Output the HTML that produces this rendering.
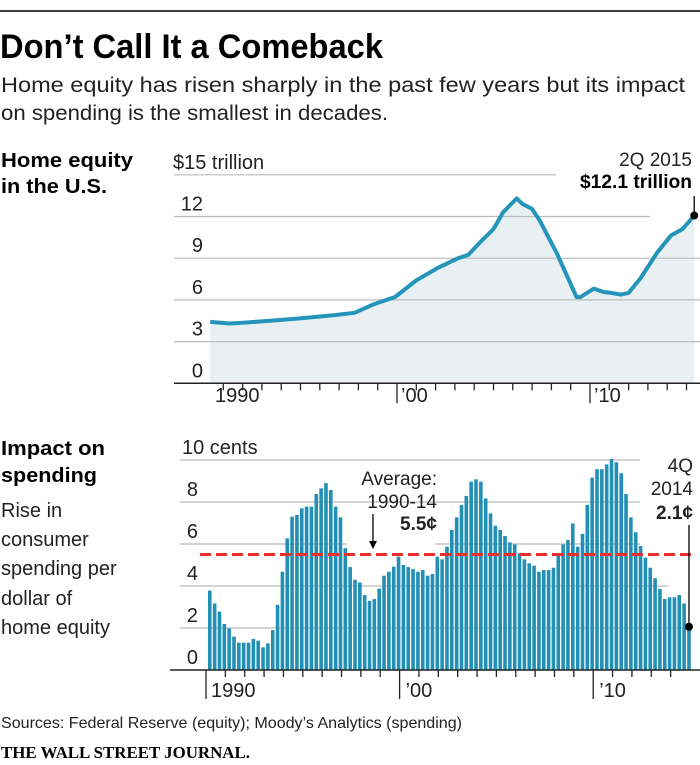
<!DOCTYPE html>
<html><head><meta charset="utf-8"><style>
html,body{margin:0;padding:0;background:#fff;}
svg{display:block;font-family:"Liberation Sans",sans-serif;}
</style></head><body>
<svg id="c" width="700" height="765" viewBox="0 0 700 765">
<line x1="0" y1="11" x2="700" y2="11" stroke="#000" stroke-width="1.5"/>
<text x="0" y="58" font-size="34" font-weight="bold" textLength="383" lengthAdjust="spacingAndGlyphs">Don’t Call It a Comeback</text>
<text x="1" y="92" font-size="21" fill="#222" textLength="684" lengthAdjust="spacingAndGlyphs">Home equity has risen sharply in the past few years but its impact</text>
<text x="1" y="120" font-size="21" fill="#222" textLength="387" lengthAdjust="spacingAndGlyphs">on spending is the smallest in decades.</text>
<g>
<text x="1" y="167" font-size="20" font-weight="bold" textLength="132" lengthAdjust="spacingAndGlyphs">Home equity</text>
<text x="1" y="193" font-size="20" font-weight="bold" textLength="106" lengthAdjust="spacingAndGlyphs">in the U.S.</text>
</g>
<g id="topchart"></g>
<g>
<text x="1" y="455" font-size="20" font-weight="bold" textLength="104" lengthAdjust="spacingAndGlyphs">Impact on</text>
<text x="1" y="482" font-size="20" font-weight="bold" textLength="96" lengthAdjust="spacingAndGlyphs">spending</text>
<text x="1" y="517" font-size="20" fill="#222">Rise in</text>
<text x="1" y="546" font-size="20" fill="#222">consumer</text>
<text x="1" y="575" font-size="20" fill="#222">spending per</text>
<text x="1" y="605" font-size="20" fill="#222">dollar of</text>
<text x="1" y="634" font-size="20" fill="#222">home equity</text>
</g>
<g id="botchart"></g>
<text x="1" y="728" font-size="16" fill="#222" textLength="461" lengthAdjust="spacingAndGlyphs">Sources: Federal Reserve (equity); Moody’s Analytics (spending)</text>
<text x="1" y="758" font-size="17" font-weight="bold" font-family="Liberation Serif,serif" textLength="249" lengthAdjust="spacingAndGlyphs">THE WALL STREET JOURNAL.</text>
</svg>
<script>
// Top chart data
const equityTimes = [1990.32,1991.3,1992.0,1993.1,1994.9,1996.7,1997.8,1998.8,1999.9,2001.0,2002.1,2003.1,2003.7,2004.4,2005.0,2005.5,2006.2,2006.5,2007.0,2007.4,2008.3,2009.3,2009.5,2010.2,2010.7,2011.1,2011.6,2012.0,2012.6,2013.5,2014.2,2014.8,2015.4];
const equityValues = [4.42,4.30,4.35,4.47,4.66,4.9,5.07,5.69,6.21,7.41,8.29,8.96,9.25,10.28,11.1,12.3,13.3,12.9,12.55,11.7,9.3,6.2,6.2,6.81,6.57,6.5,6.38,6.5,7.53,9.44,10.64,11.1,12.07];
const equityTicks = [0,3,6,9,12,15];
// Bottom chart data (quarterly 1990Q1..2014Q4)
const spendingValues = [3.78,3.17,2.78,2.19,1.98,1.59,1.3,1.3,1.3,1.48,1.4,1.08,1.27,1.9,3.1,4.68,6.27,7.3,7.38,7.7,7.78,7.78,8.38,8.65,8.9,8.57,7.78,7.27,5.8,4.9,4.3,4.17,3.57,3.29,3.38,3.87,4.49,4.68,4.92,5.4,5.0,4.9,4.8,4.68,4.76,4.49,4.57,5.4,5.27,5.87,6.67,7.27,7.86,8.29,8.97,9.08,8.97,8.17,7.46,6.87,6.67,6.38,6.08,5.98,5.56,5.27,5.08,4.97,4.68,4.76,4.76,4.87,5.56,5.98,6.19,6.98,5.87,6.48,7.86,9.16,9.56,9.56,9.79,10.05,9.89,9.37,8.38,7.27,6.56,5.9,5.35,4.87,4.37,3.86,3.38,3.46,3.46,3.57,3.17,2.06];
const spendingTicks = [0,2,4,6,8,10];
const spendingAverage = [5.5];

const NS="http://www.w3.org/2000/svg";
function mk(parent,tag,attrs,text){const e=document.createElementNS(NS,tag);for(const k in attrs)e.setAttribute(k,attrs[k]);if(text!=null)e.textContent=text;parent.appendChild(e);return e;}

// ---- top chart
const topG=document.getElementById('topchart');
const xT=t=>397+(t-2000)*19.3;
const yT=v=>383.3-v*13.9;
const gridEnds={0:700,3:700,6:700,9:700,12:650,15:556};
let pts=equityTimes.map((t,i)=>xT(t).toFixed(1)+','+yT(equityValues[i]).toFixed(1));
const area=mk(topG,'polygon',{points:xT(equityTimes[0]).toFixed(1)+','+yT(0)+' '+pts.join(' ')+' '+xT(equityTimes[equityTimes.length-1]).toFixed(1)+','+yT(0),fill:'#e8f0f4'});


equityTicks.forEach(v=>{
  if(v>0){const g=mk(topG,'line',{x1:174,x2:gridEnds[v],y1:yT(v),y2:yT(v),stroke:'#bbb','stroke-width':1.2});
  
  }
  const t=mk(topG,'text',{x:v===15?173:203,y:yT(v)-6,'font-size':20,fill:'#222','text-anchor':v===15?'start':'end'},v===15?'$15 trillion':String(v));
  
  
});
const line=mk(topG,'polyline',{points:pts.join(' '),fill:'none',stroke:'#2494bb','stroke-width':4,'stroke-linejoin':'round'});


const base=mk(topG,'line',{x1:174,x2:700,y1:yT(0),y2:yT(0),stroke:'#222','stroke-width':1.5});


for(let yr=1991;yr<=2015;yr++){
  const long=(yr===2000||yr===2010);
  const tk=mk(topG,'line',{x1:xT(yr),x2:xT(yr),y1:yT(0),y2:yT(0)+(long?20:7),stroke:'#222','stroke-width':1.3});
  
  
}
[['1990',215],["’00",xT(2000)+4],["’10",xT(2010)+4]].forEach(([s,x])=>{
  const t=mk(topG,'text',{x:x,y:402,'font-size':20,fill:'#222'},s);
  
  
});
const lt=equityTimes.length-1;
const ex=xT(equityTimes[lt]), ey=yT(equityValues[lt]);
const a1=mk(topG,'text',{x:692,y:166,'font-size':19,fill:'#222','text-anchor':'end'},'2Q 2015');


const a2=mk(topG,'text',{x:692,y:188,'font-size':19,'font-weight':'bold','text-anchor':'end',textLength:112,lengthAdjust:'spacingAndGlyphs'},'$12.1 trillion');


const pl=mk(topG,'line',{x1:ex,x2:ex,y1:196,y2:ey,stroke:'#000','stroke-width':1.3});


const dot=mk(topG,'circle',{cx:ex,cy:ey,r:4,fill:'#000'});



// ---- bottom chart
const botG=document.getElementById('botchart');
const yB=v=>670-v*21;
const xB=i=>208+i*4.84;
const xYear=yr=>206+(yr-1990)*19.36;
const bEnds={0:700,2:690,4:668,6:640,8:640,10:640};
spendingTicks.forEach(v=>{
  if(v>0){
    if(v===6){
      [[180,347],[435,640]].forEach(([a,b])=>{const g=mk(botG,'line',{x1:a,x2:b,y1:yB(v),y2:yB(v),stroke:'#bbb','stroke-width':1.2});
      
      });
    } else {
      const g=mk(botG,'line',{x1:180,x2:bEnds[v],y1:yB(v),y2:yB(v),stroke:'#bbb','stroke-width':1.2});
      
      
    }
  }
  const t=mk(botG,'text',{x:v===10?182:198,y:yB(v)-6,'font-size':20,fill:'#222','text-anchor':v===10?'start':'end'},v===10?'10 cents':String(v));
  
  
});
spendingValues.forEach((v,i)=>{
  const r=mk(botG,'rect',{x:xB(i).toFixed(2),y:yB(v).toFixed(2),width:3.6,height:(v*21).toFixed(2),fill:'#2290b5'});
  
  
});
const avg=mk(botG,'line',{x1:200,x2:694,y1:yB(spendingAverage[0]),y2:yB(spendingAverage[0]),stroke:'#e8312f','stroke-width':3,'stroke-dasharray':'11 5'});


const bb=mk(botG,'line',{x1:170,x2:700,y1:yB(0),y2:yB(0),stroke:'#222','stroke-width':1.5});


for(let yr=1990;yr<=2014;yr++){
  const long=(yr===1990||yr===2000||yr===2010);
  const tk=mk(botG,'line',{x1:xYear(yr),x2:xYear(yr),y1:yB(0),y2:yB(0)+(long?29:7),stroke:'#222','stroke-width':1.3});
  
  
}
[['1990',xYear(1990)+5],["’00",xYear(2000)+6],["’10",xYear(2010)+6]].forEach(([s,x])=>{
  const t=mk(botG,'text',{x:x,y:697,'font-size':20,fill:'#222'},s);
  
  
});
[['Average:',485,false],['1990-14',508,false],['5.5¢',530,true]].forEach(([s,y,b])=>{
  const t=mk(botG,'text',{x:437,y:y,'font-size':19,fill:'#222','text-anchor':'end','font-weight':b?'bold':'normal'},s);
  
  
});
const ar=mk(botG,'line',{x1:373,x2:373,y1:514,y2:543,stroke:'#000','stroke-width':1.3});


const ah=mk(botG,'polygon',{points:'369,541 377,541 373,549',fill:'#000'});


[['4Q',472,false],['2014',495,false],['2.1¢',519,true]].forEach(([s,y,b])=>{
  const t=mk(botG,'text',{x:693,y:y,'font-size':19,fill:'#222','text-anchor':'end','font-weight':b?'bold':'normal'},s);
  
  
});
const li=spendingValues.length-1;
const lx=xB(li)+1.8, ly=yB(spendingValues[li]);
const lp=mk(botG,'line',{x1:lx,x2:lx,y1:525,y2:ly,stroke:'#000','stroke-width':1.3});


const ld=mk(botG,'circle',{cx:lx,cy:ly,r:4,fill:'#000'});


</script>
</body></html>
